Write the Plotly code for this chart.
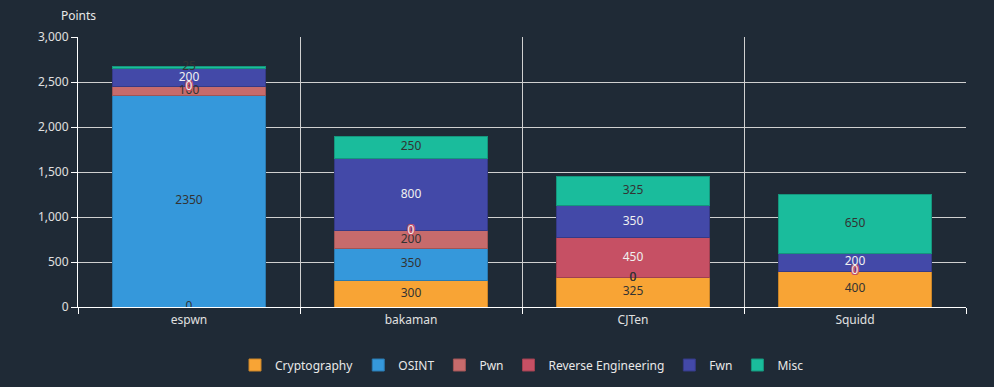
import plotly.graph_objects as go

players = ["espwn", "bakaman", "CJTen", "Squidd"]
series_names = ["Cryptography", "OSINT", "Pwn", "Reverse Engineering", "Fwn", "Misc"]
cryptography = [0, 300, 325, 400]
osint = [2350, 350, 0, 0]
pwn = [100, 200, 0, 0]
reverse_engineering = [0, 0, 450, 0]
fwn = [200, 800, 350, 200]
misc = [25, 250, 325, 650]
y_ticks = [0, 500, 1000, 1500, 2000, 2500, 3000]

series_values = [cryptography, osint, pwn, reverse_engineering, fwn, misc]
colors = ["#f8a435", "#3598db", "#c76b6c", "#c65064", "#4349a8", "#1abc9c"]
line_colors = ["#c98428", "#2a7ab0", "#a05556", "#9e4050", "#353a86", "#15967d"]
text_colors = ["#333333", "#333333", "#333333", "#f0f0f0", "#f0f0f0", "#333333"]

BG = "#1f2a36"
FONT = "Noto Sans"

fig = go.Figure()
for name, vals, c, lc in zip(series_names, series_values, colors, line_colors):
    fig.add_trace(go.Bar(
        name=name, x=players, y=vals,
        marker=dict(color=c, line=dict(color=lc, width=1)),
        hoverinfo="x+y+name",
    ))

# value labels at segment midpoints (computed from data)
base = [0] * len(players)
for i, (name, vals) in enumerate(zip(series_names, series_values)):
    mids = [b + v / 2 for b, v in zip(base, vals)]
    tf = dict(family=FONT, size=12, color=text_colors[i])
    if name == "Reverse Engineering":
        s = colors[i]
        tf["shadow"] = f"1px 1px 0 {s}, -1px -1px 0 {s}, 1px -1px 0 {s}, -1px 1px 0 {s}"
    fig.add_trace(go.Scatter(
        x=players, y=mids, mode="text", text=[str(v) for v in vals],
        textposition="middle center", textfont=tf,
        showlegend=False, hoverinfo="skip",
    ))
    base = [b + v for b, v in zip(base, vals)]

fig.update_layout(
    barmode="stack",
    bargap=0.31,
    width=994, height=387,
    paper_bgcolor=BG, plot_bgcolor=BG,
    font=dict(family=FONT, size=12, color="#e0e0e0"),
    margin=dict(l=78, r=28, t=37, b=80, autoexpand=False),
    legend=dict(orientation="h", x=0.5, xanchor="center",
                yref="container", y=1 - 365 / 387, yanchor="middle",
                font=dict(family=FONT, size=12, color="#e8e8e8"), itemwidth=30,
                traceorder="normal"),
    annotations=[dict(text="Points", xref="paper", yref="paper", x=0, y=1.081,
                      xanchor="center", yanchor="middle", showarrow=False,
                      font=dict(family=FONT, size=12, color="#e8e8e8"))],
)
fig.update_xaxes(
    tickson="boundaries", ticks="outside", ticklen=6, tickcolor="#ffffff",
    ticklabelstandoff=2,
    showgrid=True, gridcolor="#d0d0d0", gridwidth=1,
    showline=True, linecolor="#ffffff", linewidth=1,
    tickfont=dict(family=FONT, size=12, color="#e0e0e0"),
)
fig.update_yaxes(
    range=[0, 3000], tickvals=y_ticks, tickformat=",",
    ticks="outside", ticklen=6, tickcolor="#ffffff",
    showgrid=True, gridcolor="#d0d0d0", gridwidth=1,
    showline=True, linecolor="#ffffff", linewidth=1, zeroline=False,
    tickfont=dict(family=FONT, size=12, color="#e0e0e0"),
)

fig.write_html(
    "out.html",
    config={"displayModeBar": False},
    post_script="document.body.style.margin='0';document.body.style.background='%s';" % BG,
)
